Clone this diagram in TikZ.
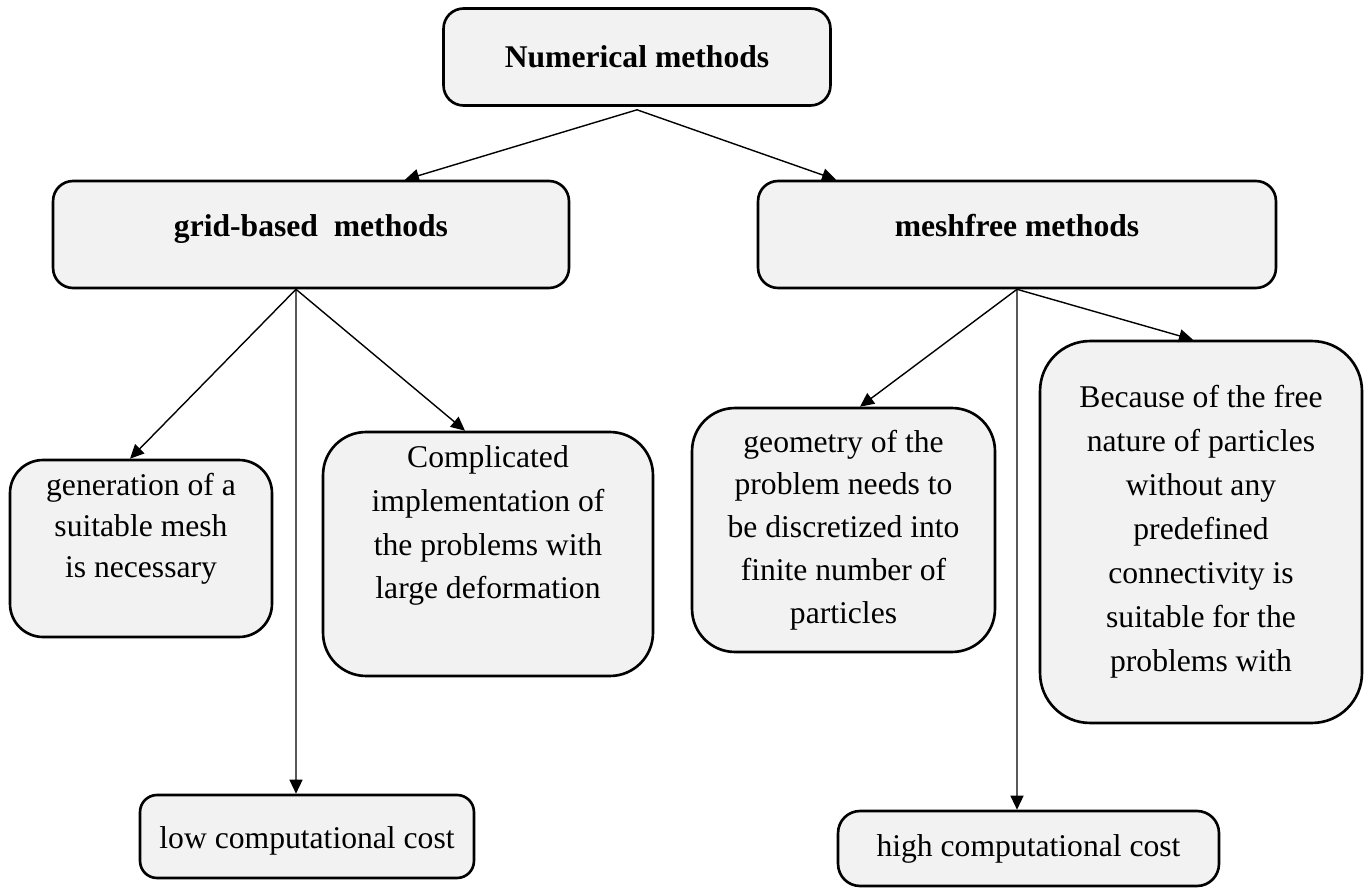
\documentclass[tikz,border=0pt]{standalone}
\usepackage{fontspec}
\setmainfont{Liberation Serif}
\usetikzlibrary{arrows.meta}
\definecolor{boxgray}{HTML}{F2F2F2}

\begin{document}
\begin{tikzpicture}[x=0.02cm, y=-0.02cm,
    box/.style={draw, line width=1.5pt, fill=boxgray, inner sep=0pt},
    big/.style={font=\fontsize{18}{23.3}\selectfont\bfseries, align=center},
    txt/.style={font=\fontsize{18}{#1}\selectfont, align=center},
    txt/.default=23.3,
    arr/.style={-{Triangle[length=0.28cm, width=0.26cm]}, line width=0.8pt}]
	\useasboundingbox (0,0) rectangle (1368,888);

	% boxes
	\node[box, rounded corners=0.4cm, minimum width=7.74cm, minimum height=1.94cm] (num) at (637,57) {};
	\node[box, rounded corners=0.4cm, minimum width=10.32cm, minimum height=2.14cm] (grid) at (311,234.5) {};
	\node[box, rounded corners=0.4cm, minimum width=10.36cm, minimum height=2.14cm] (mesh) at (1017,234.5) {};

	\node[box, rounded corners=0.66cm, minimum width=5.24cm, minimum height=3.54cm] (gen) at (141,548.5) {};
	\node[box, rounded corners=0.86cm, minimum width=6.6cm, minimum height=4.88cm] (comp) at (488,554) {};
	\node[box, rounded corners=0.34cm, minimum width=6.68cm, minimum height=1.66cm] (low) at (307,836.5) {};

	\node[box, rounded corners=0.86cm, minimum width=6.06cm, minimum height=4.88cm] (geom) at (843.5,530) {};
	\node[box, rounded corners=1cm, minimum width=6.44cm, minimum height=7.64cm] (bec) at (1201,532) {};
	\node[box, rounded corners=0.44cm, minimum width=7.62cm, minimum height=1.5cm] (high) at (1028.5,848.5) {};

	% texts
	\node[big] (numT) at (num.center) {Numerical methods};
	\node[big] (gridT) at ([yshift=0.1cm]grid.center) {grid-based~ methods};
	\node[big] (meshT) at ([yshift=0.18cm]mesh.center) {meshfree methods};

	\node[txt] (genT) at ([yshift=0.4cm]gen.center) {generation of a\\suitable mesh\\is necessary};
	\node[txt=25] (compT) at ([yshift=0.57cm]comp.center) {Complicated\\implementation of\\the problems with\\large deformation};
	\node[txt] (lowT) at ([yshift=-0.08cm]low.center) {low computational cost};

	\node[txt=24.4] (geomT) at (geom.center) {geometry of the\\problem needs to\\be discretized into\\finite number of\\particles};
	\node[txt=25] (becT) at (bec.center) {Because of the free\\nature of particles\\without any\\predefined\\connectivity is\\suitable for the\\problems with};
	\node[txt] (highT) at (high.center) {high computational cost};

	% connectors
	\coordinate (numfork) at ([yshift=-0.06cm]num.south);
	\coordinate (gridfork) at ([xshift=-0.3cm]grid.south);
	\coordinate (meshfork) at (mesh.south);

	\draw[arr] (numfork) -- ([xshift=1.88cm]grid.north);
	\draw[arr] (numfork) -- ([xshift=-3.62cm]mesh.north);

	\draw[arr] (gridfork) -- ([xshift=-0.22cm]gen.north);
	\draw[arr] (gridfork) -- ([xshift=-0.22cm]low.north);
	\draw[arr] (gridfork) -- ([xshift=-0.46cm]comp.north);

	\draw[arr] (meshfork) -- ([xshift=0.33cm]geom.north);
	\draw[arr] (meshfork) -- ([xshift=-0.23cm]high.north);
	\draw[arr] (meshfork) -- ([xshift=-0.16cm]bec.north);
\end{tikzpicture}
\end{document}
